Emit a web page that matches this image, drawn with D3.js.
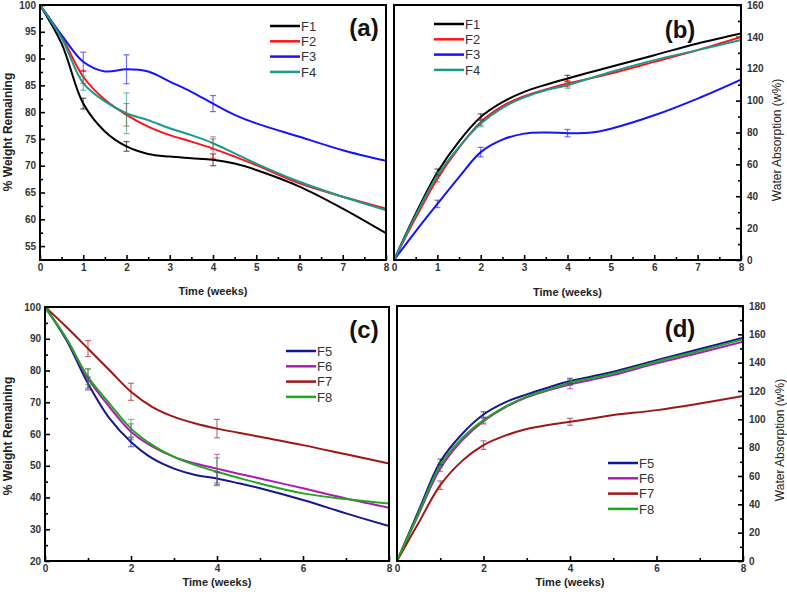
<!DOCTYPE html>
<html><head><meta charset="utf-8">
<script src="https://cdn.jsdelivr.net/npm/d3@7"></script>
<style>
body{margin:0;background:#fff;}
svg{display:block;}
text{font-family:"Liberation Sans",Arial,sans-serif;}
</style></head>
<body>
<svg id="chart" width="787" height="599"></svg>
<script>
// ---------- data ----------
const weeks = [0,0.5,1,1.5,2,2.5,3,3.5,4,4.5,5,6,7,8];
const errWeeks = [1,2,4];

// Panel (a) % weight remaining
const aF1 = [100,92.8,81.6,76.4,73.6,72.2,71.7,71.4,71.1,70.4,69.2,66.1,62.0,57.4];
const aF2 = [100,94.1,86.6,82.3,79.5,77.3,75.7,74.5,73.2,71.7,70.1,66.7,64.2,62.0];
const aF3 = [100,94.4,89.4,87.6,88.0,87.6,85.7,83.8,81.6,79.5,77.9,75.4,72.9,70.9];
const aF4 = [100,93.8,85.4,82.0,79.8,78.5,77.0,75.7,74.2,72.3,70.4,67.0,64.2,61.7];
const aErr = {F1:[1.0,0.9,1.1],F2:[1.2,2.1,1.8],F3:[1.8,2.7,1.5],F4:[1.3,3.8,1.2]};

// Panel (b) water absorption
const bF1 = [0,29,55.1,74.5,89.7,99,105.5,110,113.9,117.6,121.2,128.5,135.9,142.2];
const bF2 = [0,26.5,51,70.5,86.6,96.5,102.8,107,110.7,113.8,117,124.3,131.7,140];
const bF3 = [0,18,35.2,52,67.7,75.5,79.3,80,79.6,79.8,82.4,90.8,101.3,113.2];
const bF4 = [0,28,53,71,85.6,95.5,102,106.5,109.7,113.9,118,125.4,131.7,138];
const bErr = {F1:[2,2,2],F2:[2,2,2],F3:[2.3,3,2.3],F4:[2,2,2]};

// Panel (c) % weight remaining
const cF5 = [100,89.5,75.9,64.9,57.5,52.3,49.1,47.1,46.0,44.5,42.9,39.2,35.0,31.0];
const cF6 = [100,90.0,77.5,68.5,60.7,56.0,52.8,50.7,49.1,47.5,46.0,42.9,39.7,36.8];
const cF7 = [100,93.7,86.9,80.1,73.3,68.5,65.4,63.3,61.7,60.4,59.1,56.5,53.6,50.7];
const cF8 = [100,90.0,78.0,69.6,61.7,56.5,52.8,50.2,48.1,46.2,44.4,41.3,39.5,38.1];
const cErr = {F5:[2,1.5,2],F6:[3,2.5,4.5],F7:[2.5,2.7,2.9],F8:[2.5,2.9,4.4]};

// Panel (d) water absorption
const dF5 = [0,35.5,70,89.5,103.4,112,117.6,122.5,127,130.3,133.6,141.8,149.6,157.6];
const dF6 = [0,33,65.3,85,98.7,108.5,115.5,120.5,124.6,127.9,131.2,139.5,147,154.8];
const dF7 = [0,27,53.5,70.5,81.8,88.5,93.2,96,98.3,100.6,103,106.5,111.2,116.4];
const dF8 = [0,34,67.6,86.5,99.4,108.9,116,121,125.8,129.1,132.4,140.7,148.4,156.5];
const dErr = {F5:[2,2,2],F6:[2,2,3],F7:[3,3,2.5],F8:[2,2,2]};

const seriesNamesTop = ["F1","F2","F3","F4"];
const seriesNamesBot = ["F5","F6","F7","F8"];
const colorsTop = ["#000000","#ff1414","#1414ff","#1a9a8c"];
const colorsBot = ["#16168f","#b01ab4","#9e1616","#1ea81e"];

const xTicksTop = [0,1,2,3,4,5,6,7,8];
const xTicksBot = [0,2,4,6,8];
const yTicksA = [55,60,65,70,75,80,85,90,95,100];
const yTicksB = [0,20,40,60,80,100,120,140,160];
const yTicksC = [20,30,40,50,60,70,80,90,100];
const yTicksD = [0,20,40,60,80,100,120,140,160,180];

// ---------- drawing ----------
const svg = d3.select("#chart");

function panel(cfg){
  const g = svg.append("g");
  const x = d3.scaleLinear().domain([0,8]).range([cfg.x0,cfg.x1]);
  const y = d3.scaleLinear().domain(cfg.yDom).range([cfg.y1,cfg.y0]);

  const styleAxis = sel => {
    sel.select(".domain").remove();
    sel.selectAll("line").attr("stroke","#000").attr("stroke-width",1.6);
    sel.selectAll("text").attr("fill","#333").style("font-size","10px").style("font-weight","bold");
  };
  g.append("g").attr("transform",`translate(0,${cfg.y1})`)
    .call(d3.axisBottom(x).tickValues(cfg.xTicks).tickFormat(d3.format("d")).tickSize(-5).tickPadding(4))
    .call(styleAxis);
  g.append("g").attr("transform",`translate(0,${cfg.y1})`)
    .call(d3.axisBottom(x).tickValues(cfg.xMinor).tickFormat("").tickSize(-3))
    .call(styleAxis);
  const yAxisMaj = cfg.right ? d3.axisRight(y) : d3.axisLeft(y);
  const yAxisMin = cfg.right ? d3.axisRight(y) : d3.axisLeft(y);
  const yx = cfg.right ? cfg.x1 : cfg.x0;
  g.append("g").attr("transform",`translate(${yx},0)`)
    .call(yAxisMaj.tickValues(cfg.yTicks).tickFormat(d3.format("d")).tickSize(-5).tickPadding(cfg.right?6:4))
    .call(styleAxis);
  g.append("g").attr("transform",`translate(${yx},0)`)
    .call(yAxisMin.tickValues(cfg.yMinor).tickFormat("").tickSize(-3))
    .call(styleAxis);

  const line = d3.line().x((d,i)=>x(weeks[i])).y(d=>y(d)).curve(d3.curveCatmullRom.alpha(0.5));
  const clipId = "clip"+cfg.id;
  svg.append("clipPath").attr("id",clipId).append("rect")
    .attr("x",cfg.x0).attr("y",cfg.y0).attr("width",cfg.x1-cfg.x0).attr("height",cfg.y1-cfg.y0);
  const plot = g.append("g").attr("clip-path",`url(#${clipId})`);
  cfg.series.forEach((s,si)=>{
    plot.append("path").datum(s).attr("d",line).attr("fill","none")
      .attr("stroke",cfg.colors[si]).attr("stroke-width",2);
  });
  cfg.series.forEach((s,si)=>{
    const errs = cfg.err[cfg.names[si]];
    errWeeks.forEach((w,k)=>{
      const v = s[weeks.indexOf(w)];
      const e = errs[k];
      const cx = x(w);
      const eg = g.append("g").attr("stroke",cfg.colors[si]).attr("stroke-opacity",0.6).attr("stroke-width",1.2);
      eg.append("line").attr("x1",cx).attr("x2",cx).attr("y1",y(v-e)).attr("y2",y(v+e));
      eg.append("line").attr("x1",cx-3).attr("x2",cx+3).attr("y1",y(v-e)).attr("y2",y(v-e));
      eg.append("line").attr("x1",cx-3).attr("x2",cx+3).attr("y1",y(v+e)).attr("y2",y(v+e));
    });
  });

  g.append("rect").attr("x",cfg.x0).attr("y",cfg.y0).attr("width",cfg.x1-cfg.x0).attr("height",cfg.y1-cfg.y0)
    .attr("fill","none").attr("stroke","#000").attr("stroke-width",2);

  cfg.names.forEach((n,i)=>{
    const ly = cfg.legY + i*15.3;
    g.append("line").attr("x1",cfg.legX).attr("x2",cfg.legX+30).attr("y1",ly).attr("y2",ly)
      .attr("stroke",cfg.colors[i]).attr("stroke-width",2.5);
    g.append("text").attr("x",cfg.legX+31).attr("y",ly).attr("dy","0.36em")
      .attr("fill","#333").style("font-size","13px").text(n);
  });

  g.append("text").attr("x",cfg.labX).attr("y",cfg.labY).attr("text-anchor","middle")
    .style("font-size","24px").style("font-weight","bold").attr("fill","#111").text(cfg.label);

  g.append("text").attr("x",(cfg.x0+cfg.x1)/2).attr("y",cfg.xTitleY).attr("text-anchor","middle")
    .style("font-size","11px").style("font-weight","bold").attr("fill","#222").text("Time (weeks)");
  g.append("text").attr("transform",`translate(${cfg.yTitleX},${cfg.yTitleCY}) rotate(-90)`)
    .attr("text-anchor","middle").attr("dy","0.35em")
    .style("font-size","12px").style("font-weight",cfg.right?"normal":"bold")
    .attr("fill","#222").text(cfg.yTitle);
}

panel({id:"a",x0:40,x1:386,y0:5,y1:260,yDom:[52.4,100],
  xTicks:xTicksTop,xMinor:[0.5,1.5,2.5,3.5,4.5,5.5,6.5,7.5],
  yTicks:yTicksA,yMinor:[57.5,62.5,67.5,72.5,77.5,82.5,87.5,92.5,97.5],right:false,
  series:[aF1,aF2,aF3,aF4],names:seriesNamesTop,colors:colorsTop,err:aErr,
  legX:270,legY:26,label:"(a)",labX:364,labY:36,xTitleY:295,
  yTitle:"% Weight Remaining",yTitleX:8,yTitleCY:132});

panel({id:"b",x0:394,x1:741,y0:5,y1:260,yDom:[0,160],
  xTicks:xTicksTop,xMinor:[0.5,1.5,2.5,3.5,4.5,5.5,6.5,7.5],
  yTicks:yTicksB,yMinor:[10,30,50,70,90,110,130,150],right:true,
  series:[bF1,bF2,bF3,bF4],names:seriesNamesTop,colors:colorsTop,err:bErr,
  legX:434,legY:24,label:"(b)",labX:680,labY:38,xTitleY:296,
  yTitle:"Water Absorption (w%)",yTitleX:777,yTitleCY:140});

panel({id:"c",x0:45,x1:389,y0:307,y1:561,yDom:[20,100],
  xTicks:xTicksBot,xMinor:[1,3,5,7],
  yTicks:yTicksC,yMinor:[25,35,45,55,65,75,85,95],right:false,
  series:[cF5,cF6,cF7,cF8],names:seriesNamesBot,colors:colorsBot,err:cErr,
  legX:286,legY:351,label:"(c)",labX:364,labY:338,xTitleY:586,
  yTitle:"% Weight Remaining",yTitleX:8,yTitleCY:436});

panel({id:"d",x0:397,x1:743,y0:306,y1:561,yDom:[0,180],
  xTicks:xTicksBot,xMinor:[1,3,5,7],
  yTicks:yTicksD,yMinor:[10,30,50,70,90,110,130,150,170],right:true,
  series:[dF5,dF6,dF7,dF8],names:seriesNamesBot,colors:colorsBot,err:dErr,
  legX:608,legY:463,label:"(d)",labX:680,labY:337,xTitleY:586,
  yTitle:"Water Absorption (w%)",yTitleX:780,yTitleCY:440});
</script>
</body></html>
